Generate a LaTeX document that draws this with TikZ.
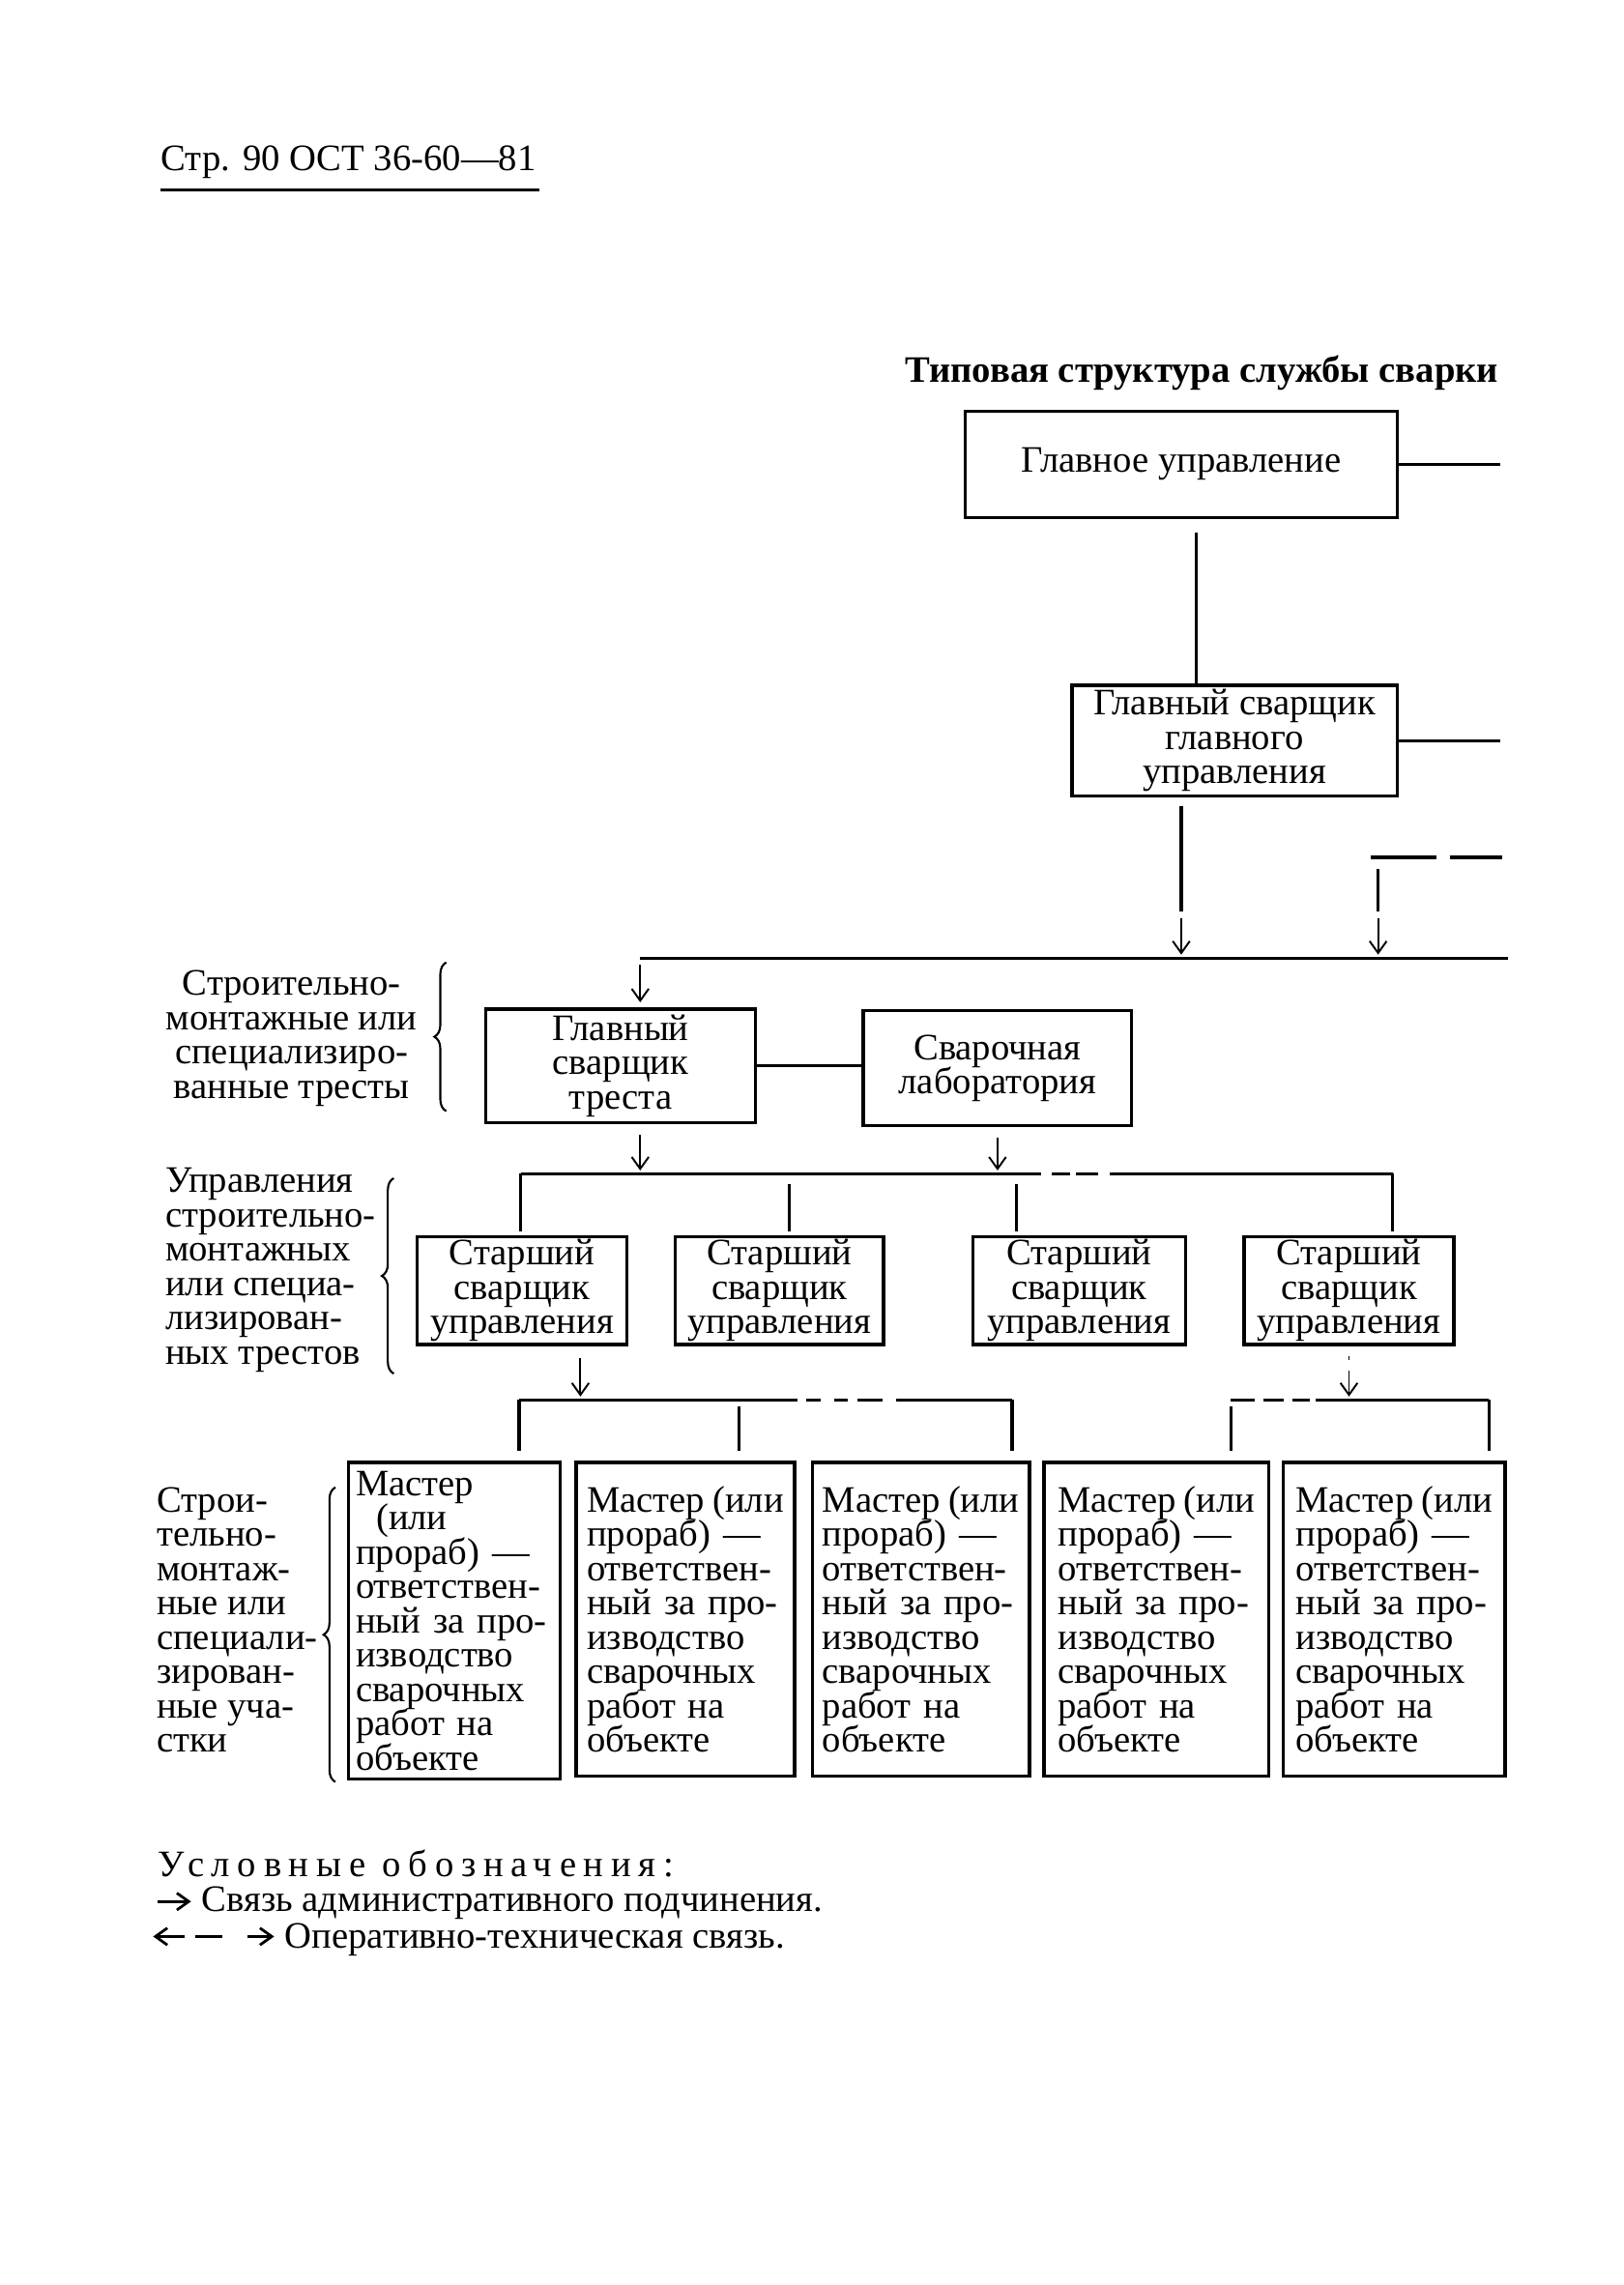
\documentclass[tikz,border=0pt]{standalone}
\usepackage{fontspec}
\setmainfont{Liberation Serif}
\usetikzlibrary{arrows.meta, calc, decorations.pathreplacing}
\tikzset{>={Straight Barb[length=3.5pt, width=5pt]}}
\newcommand\txt{\fontsize{11}{10.1}\selectfont\lineskiplimit=-10pt}
\newcommand\mastertext{Мастер\hfill(или\\прораб) —\\ответствен-\\ный за про-\\изводство\\сварочных\\работ на\\объекте}
\tikzset{
  every node/.style={font=\txt},
  wh/.style 2 args={minimum width=#1*0.01509cm, minimum height=#2*0.01509cm},
  box/.style={draw, line width=1pt, inner sep=0pt, align=center},
  master/.style={box, align=left, text width=58pt},
  link/.style={line width=0.9pt},
  arr/.style={->, line width=0.55pt},
  brc/.style={decorate, decoration={brace, amplitude=3.5pt}, line width=0.6pt}
}

\begin{document}
\begin{tikzpicture}[x=0.01509cm, y=-0.01509cm]
    \useasboundingbox (0,0) rectangle (1113,1567);
    % page head and title
    \node[anchor=base west, inner sep=0pt] (hdr) at (110,117) {Стр. 90 ОСТ 36-60—81};
    \draw[line width=0.8pt] ($(hdr.base west)+(0,13)$) -- ($(hdr.base east)+(2,13)$);
    \node[anchor=base east, inner sep=0pt, font=\txt\bfseries] (title) at (1028,262) {Типовая структура службы сварки};

    % main office
    \node[box, wh={296}{73}] (gu) at (810,318.5) {Главное управление};
    \node[box, wh={223}{76}] (gsg) at (846.5,508) {Главный сварщик\\главного\\управления};
    \coordinate (rim) at (1029,0);
    \coordinate (j1) at (820,365);
    \draw[link] (gu.east) -- (gu.east -| rim);
    \draw[link] (gsg.east) -- (gsg.east -| rim);
    \draw[link] (j1) -- (j1 |- gsg.north);

    % first bus
    \coordinate (b1w) at (439,657);
    \coordinate (b1e) at (1034,657);
    \coordinate (g1) at (810,625);
    \coordinate (r1) at (940,588);
    \coordinate (r0) at (1030,588);
    \coordinate (r2) at (945,625);
    \draw[link] (b1w) -- (b1e);
    \draw[link, shorten <=2.5pt] (g1 |- gsg.south) -- (g1);
    \draw[arr, shorten <=2pt, shorten >=1pt] (g1) -- (g1 |- b1w);
    \draw[link, dash pattern=on 19.3pt off 3.9pt] (r1) -- (r0);
    \draw[link, shorten <=3.4pt] (r2 |- r1) -- (r2);
    \draw[arr, shorten <=2pt, shorten >=1pt] (r2) -- (r2 |- b1w);

    % trusts
    \node[box, wh={185}{78}] (gst) at (425.5,731) {Главный\\сварщик\\треста};
    \node[box, wh={184}{79}] (lab) at (684,732.5) {Сварочная\\лаборатория};
    \draw[link] (gst.east) -- (gst.east -| lab.west);
    \draw[arr, shorten <=2pt, shorten >=1.5pt] (b1w) -- (b1w |- gst.north);

    % second bus
    \coordinate (b2w) at (357,805);
    \coordinate (b2e) at (955,805);
    \coordinate (t2) at (541,805);
    \coordinate (t3) at (697,805);
    \draw[arr, shorten <=3pt, shorten >=1pt] (gst.south -| b1w) -- (b1w |- b2w);
    \draw[arr, shorten <=3pt, shorten >=1pt] (lab.south) -- (lab.south |- b2w);
    \draw[link, dash pattern=on 153.3pt off 3pt on 5.6pt off 1.7pt on 6.4pt off 3.4pt on 90pt] (b2w) -- (b2e);

    % managements
    \foreach \n/\c/\w in {ss1/358/144, ss2/534.5/143, ss3/740/146, ss4/925/144}
        \node[box, wh={\w}{74}] (\n) at (\c,885) {Старший\\сварщик\\управления};
    \draw[link, shorten >=1pt] (b2w) -- (b2w |- ss1.north);
    \draw[link, shorten <=3pt, shorten >=1pt] (t2) -- (t2 |- ss2.north);
    \draw[link, shorten <=3pt, shorten >=1pt] (t3) -- (t3 |- ss3.north);
    \draw[link, shorten >=1pt] (b2e) -- (b2e |- ss4.north);

    % third bus
    \coordinate (s1) at (398,930);
    \coordinate (b3w) at (356,960);
    \coordinate (b3m) at (694,960);
    \coordinate (b3x) at (844,960);
    \coordinate (b3e) at (1021,960);
    \coordinate (t5) at (507,960);
    \draw[arr, shorten <=3.5pt, shorten >=1pt] (s1 |- ss1.south) -- (s1 |- b3w);
    \draw[arr, dash pattern=on 1.2pt off 3pt on 20pt, shorten <=3pt, shorten >=1pt] (ss4.south) -- (ss4.south |- b3e);
    \draw[link, dash pattern=on 82pt off 2.6pt on 4.3pt off 3.9pt on 3.9pt off 3pt on 7.3pt off 3.9pt on 60pt] (b3w) -- (b3m);
    \draw[link, dash pattern=on 6.9pt off 2.6pt on 6pt off 2.6pt on 5.2pt off 1.7pt on 60pt] (b3x) -- (b3e);

    % sections
    \node[master, wh={145}{217}] (m1) at (311.5,1111.5) {Мастер\\\hspace*{6pt}(или\\прораб) —\\ответствен-\\ный за про-\\изводство\\сварочных\\работ на\\объекте};
    \foreach \n/\c/\w in {m2/470/150, m3/631.5/149, m4/793/154, m5/956/152}
        \node[master, wh={\w}{215}] (\n) at (\c,1110.5) {\mastertext};
    \draw[link, shorten >=3pt] (b3w) -- (b3w |- m1.north);
    \draw[link, shorten <=2pt, shorten >=3pt] (t5) -- (t5 |- m2.north);
    \draw[link, shorten >=3pt] (b3m) -- (b3m |- m3.north);
    \draw[link, shorten <=2pt, shorten >=3pt] (b3x) -- (b3x |- m4.north);
    \draw[link, shorten >=3pt] (b3e) -- (b3e |- m5.north);

    % level captions
    \node[align=center, inner sep=0pt] (lvl1) at (200,712) {Строительно-\\монтажные или\\специализиро-\\ванные тресты};
    \node[align=left, anchor=west, inner sep=0pt] (lvl2) at (113,871) {Управления\\строительно-\\монтажных\\или специа-\\лизирован-\\ных трестов};
    \node[align=left, anchor=west, inner sep=0pt] (lvl3) at (107,1111) {Строи-\\тельно-\\монтаж-\\ные или\\специали-\\зирован-\\ные уча-\\стки};
    \draw[brc] (306,762) -- (306,660);
    \draw[brc] (270,942) -- (270,808);
    \draw[brc] (230,1222) -- (230,1020);

    % legend
    \node[anchor=base west, inner sep=0pt] (leg) at (108,1287) {\addfontfeatures{LetterSpace=20}Условные обозначения:};
    \coordinate (a0) at (108,1304);
    \coordinate (a1) at (131,1304);
    \coordinate (d0) at (105,1328);
    \coordinate (d1) at (188,1328);
    \draw[arr, line width=0.8pt] (a0) -- (a1);
    \node[anchor=base west, inner sep=0pt] (leg1) at (138,1311) {Связь административного подчинения.};
    \draw[<->, line width=0.8pt, dash pattern=on 8.2pt off 3pt on 8.2pt off 7.3pt on 9pt] (d0) -- (d1);
    \node[anchor=base west, inner sep=0pt] (leg2) at (195,1336) {Оперативно-техническая связь.};
\end{tikzpicture}
\end{document}
